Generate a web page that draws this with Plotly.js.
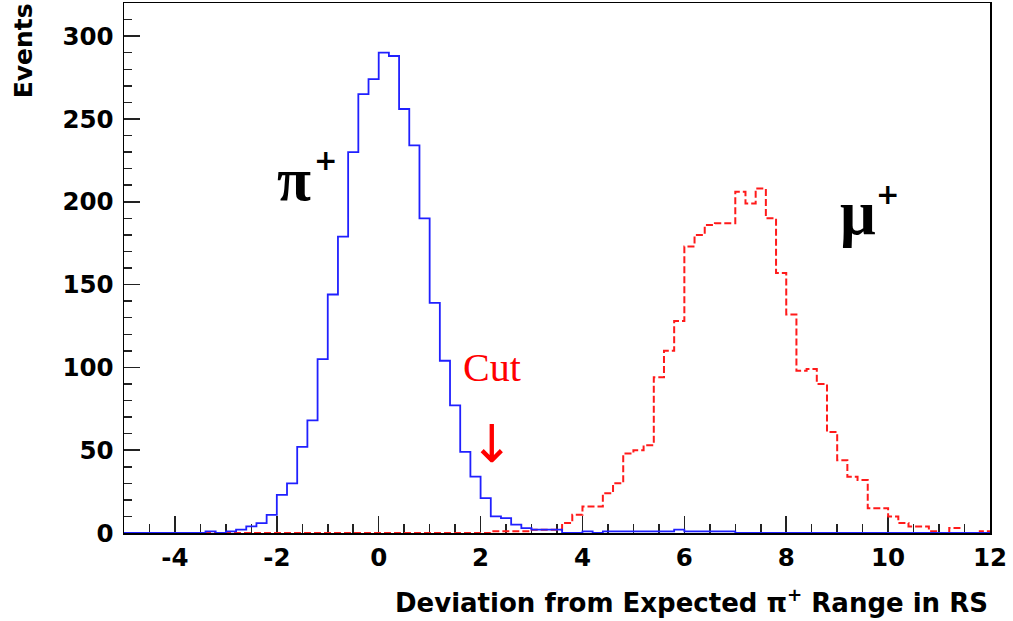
<!DOCTYPE html>
<html><head><meta charset="utf-8">
<script src="https://cdn.plot.ly/plotly-3.0.1.min.js"></script>
<style>html,body{margin:0;padding:0;background:#fff}#chart{width:1013px;height:621px}</style>
</head><body><div id="chart"></div>
<script>
// Histogram binning (bin edges from -5 to 12, width 0.2)
const binStart = -5;
const binWidth = 0.2;

// pi+ events per bin (85 bins, left edge -5.0 ... 11.8)
const piPlusCounts = [
  0,0,0,0,0,0,0,0,1,0,
  1,2,4,6,11,23,30,52,68,105,
  144,179,230,265,274,290,288,256,234,190,
  139,104,77,49,34,21,10,9,5,3,
  2,2,2,0,0,1,0,1,1,1,
  1,1,1,1,2,1,1,1,1,1,
  0,0,0,0,0,0,0,0,0,0,
  0,0,0,0,0,0,0,0,0,0,
  0,0,0,0,0
];

// mu+ events per bin (85 bins)
const muPlusCounts = [
  0,0,0,0,0,0,0,0,0,0,
  0,0,0,0,0,0,0,0,0,0,
  0,0,0,0,0,0,0,0,0,0,
  0,0,0,0,0,0,1,1,1,1,
  2,2,2,6,11,16,16,24,30,48,
  50,53,94,110,128,173,180,186,187,187,
  206,199,208,190,157,132,98,99,90,61,
  44,34,32,15,15,10,6,4,4,1,
  0,3,0,0,1
];

const xTickValues = [-4,-2,0,2,4,6,8,10,12];
const yTickValues = [0,50,100,150,200,250,300];

function stepEdges(counts){
  const xs = [];
  for (let i = 0; i <= counts.length; i++) xs.push(Math.round((binStart + i*binWidth)*1000)/1000);
  return xs;
}
function stepValues(counts){ return counts.concat([counts[counts.length-1]]); }

const traces = [
  {x: stepEdges(muPlusCounts), y: stepValues(muPlusCounts), type:'scatter', mode:'lines',
   line:{shape:'hv', color:'#ff1a1a', width:2, dash:'7px,3px'}, name:'μ+', hoverinfo:'skip'},
  {x: stepEdges(piPlusCounts), y: stepValues(piPlusCounts), type:'scatter', mode:'lines',
   line:{shape:'hv', color:'#2020ff', width:1.8}, name:'π+', hoverinfo:'skip'}
];

const tickFont = {family:'DejaVu Sans', size:24.5, color:'#000', weight:700};

const layout = {
  width:1013, height:621,
  margin:{l:124, r:23, t:3, b:88},
  paper_bgcolor:'#fff', plot_bgcolor:'#fff',
  showlegend:false,
  xaxis:{range:[-5,12], showgrid:false, zeroline:false, showline:true, mirror:true,
    linecolor:'#000', linewidth:1.5, layer:'below traces',
    ticks:'inside', ticklen:17, tickwidth:1.5, tickcolor:'#222',
    tickvals:xTickValues, ticktext:xTickValues.map(String), tickfont:tickFont,
    ticklabelstandoff:2,
    minor:{dtick:0.5, tick0:0, ticks:'inside', ticklen:9, tickwidth:1.5, tickcolor:'#222', showgrid:false}},
  yaxis:{range:[0,320], showgrid:false, zeroline:false, showline:true, mirror:true,
    linecolor:'#000', linewidth:1.5, layer:'below traces',
    ticks:'inside', ticklen:16, tickwidth:1.5, tickcolor:'#222',
    tickvals:yTickValues, ticktext:yTickValues.map(String), tickfont:tickFont,
    ticklabelstandoff:4,
    minor:{dtick:10, tick0:0, ticks:'inside', ticklen:8, tickwidth:1.5, tickcolor:'#222', showgrid:false}},
  annotations:[
    {xref:'paper', yref:'paper', x:1, y:-0.128, xanchor:'right', yanchor:'middle', showarrow:false,
     text:'Deviation from Expected π<sup>+</sup> Range in RS',
     font:{family:'DejaVu Sans', size:26, color:'#000', weight:700}},
    {xref:'paper', yref:'paper', x:-0.1165, y:0.909, xanchor:'center', yanchor:'middle', showarrow:false,
     textangle:-90, text:'Events',
     font:{family:'DejaVu Sans', size:25, color:'#000', weight:700}},
    {xref:'paper', yref:'paper', x:0.1964, y:0.667, xanchor:'center', yanchor:'middle', showarrow:false,
     text:'π', font:{family:'Liberation Serif', size:62, color:'#000', weight:700}},
    {xref:'paper', yref:'paper', x:0.2322, y:0.702, xanchor:'center', yanchor:'middle', showarrow:false,
     text:'+', font:{family:'DejaVu Sans', size:28, color:'#000', weight:700}},
    {xref:'paper', yref:'paper', x:0.847, y:0.603, xanchor:'center', yanchor:'middle', showarrow:false,
     text:'μ', font:{family:'Liberation Serif', size:63, color:'#000', weight:700}},
    {xref:'paper', yref:'paper', x:0.882, y:0.638, xanchor:'center', yanchor:'middle', showarrow:false,
     text:'+', font:{family:'DejaVu Sans', size:28, color:'#000', weight:700}},
    {xref:'paper', yref:'paper', x:0.425, y:0.3125, xanchor:'center', yanchor:'middle', showarrow:false,
     text:'Cut', font:{family:'Liberation Serif', size:40, color:'#ff0000'}},
    {xref:'paper', yref:'paper', x:0.4245, y:0.168, xanchor:'center', yanchor:'middle', showarrow:false,
     text:'↓', font:{family:'DejaVu Sans', size:52, color:'#ff0000'}}
  ]
};

Plotly.newPlot('chart', traces, layout, {staticPlot:true, displayModeBar:false});
</script>
</body></html>
